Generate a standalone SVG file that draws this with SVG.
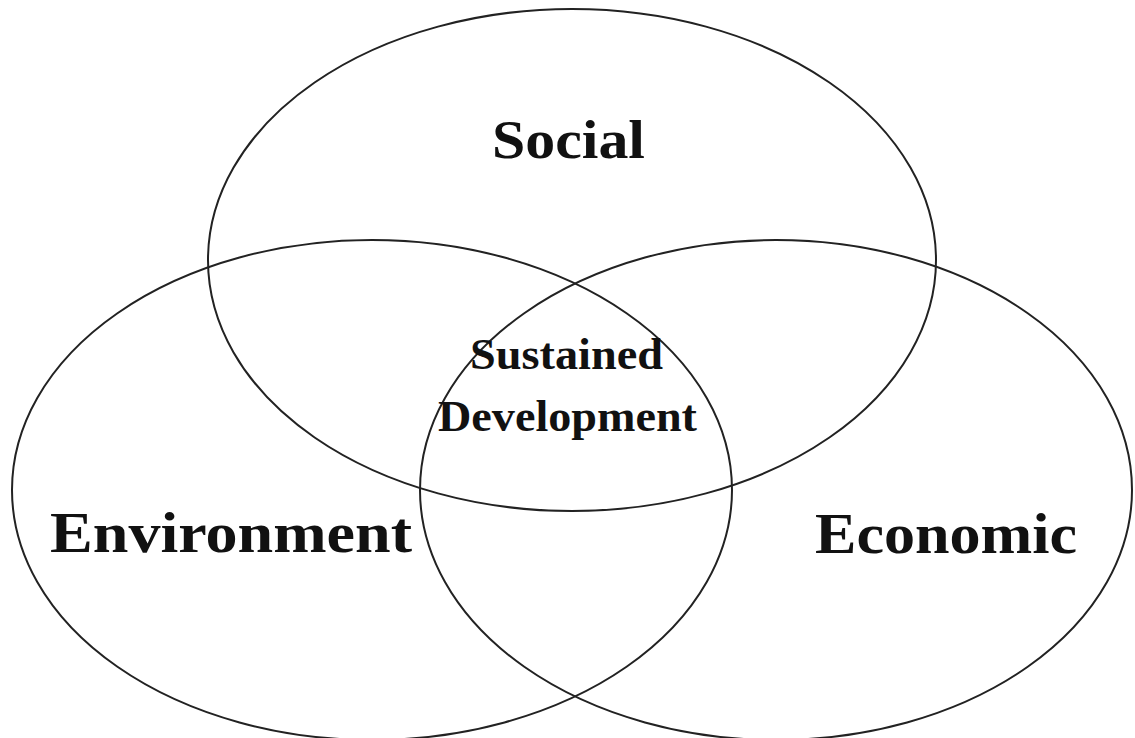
<svg xmlns="http://www.w3.org/2000/svg" width="1135" height="738" viewBox="0 0 1135 738">
<style>
.ring{fill:none;stroke:#222;stroke-width:2}
.lbl{font-family:"Liberation Serif","Times New Roman",serif;font-weight:bold;fill:#111}
</style>
<rect width="1135" height="738" fill="#fff"/>
<g id="social">
<ellipse class="ring" cx="572" cy="260" rx="364" ry="251"/>
<text class="lbl" x="492" y="158" font-size="55" textLength="153" lengthAdjust="spacingAndGlyphs">Social</text>
</g>
<g id="environment">
<ellipse class="ring" cx="372" cy="490" rx="360" ry="250"/>
<text class="lbl" x="50" y="552" font-size="56" textLength="362" lengthAdjust="spacingAndGlyphs">Environment</text>
</g>
<g id="economic">
<ellipse class="ring" cx="776" cy="490" rx="356" ry="250"/>
<text class="lbl" x="815" y="553" font-size="56" textLength="262" lengthAdjust="spacingAndGlyphs">Economic</text>
</g>
<g id="sustained">
<text class="lbl" x="470" y="369" font-size="44" textLength="193" lengthAdjust="spacingAndGlyphs">Sustained</text>
<text class="lbl" x="438" y="431" font-size="44" textLength="259" lengthAdjust="spacingAndGlyphs">Development</text>
</g>
<g id="connectors"></g>
</svg>
